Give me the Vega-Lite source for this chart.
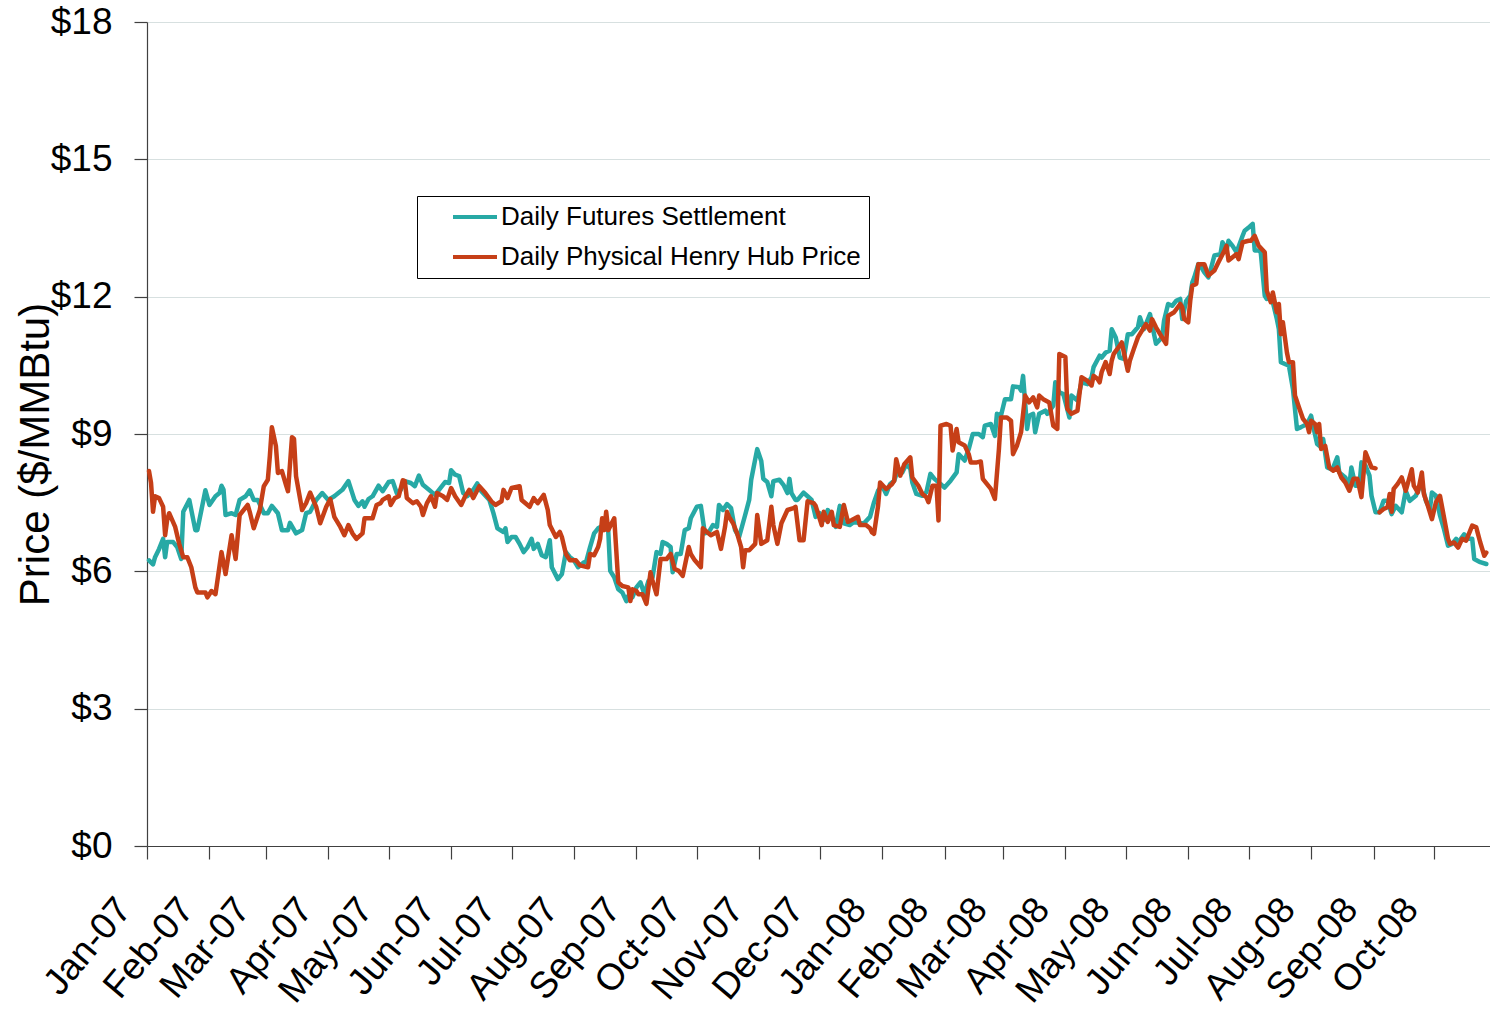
{
  "$schema": "https://vega.github.io/schema/vega-lite/v6.json",
  "width": 1343,
  "height": 824,
  "autosize": {"type": "none"},
  "padding": {"left": 147, "top": 22, "right": 0, "bottom": 163},
  "background": "white",
  "config": {"view": {"stroke": null}, "font": "Liberation Sans"},
  "datasets": {
    "futures": [
      {"date":"2007-01-02","price":6.24},{"date":"2007-01-04","price":6.15},{"date":"2007-01-05","price":6.31},{"date":"2007-01-07","price":6.49},{"date":"2007-01-09","price":6.71},{"date":"2007-01-10","price":6.31},{"date":"2007-01-11","price":6.64},{"date":"2007-01-14","price":6.64},{"date":"2007-01-16","price":6.53},{"date":"2007-01-18","price":6.27},{"date":"2007-01-19","price":7.30},{"date":"2007-01-22","price":7.56},{"date":"2007-01-25","price":6.90},{"date":"2007-01-26","price":6.90},{"date":"2007-01-30","price":7.77},
      {"date":"2007-02-01","price":7.45},{"date":"2007-02-04","price":7.64},{"date":"2007-02-06","price":7.71},{"date":"2007-02-07","price":7.87},{"date":"2007-02-08","price":7.78},{"date":"2007-02-09","price":7.23},{"date":"2007-02-12","price":7.27},{"date":"2007-02-14","price":7.23},{"date":"2007-02-16","price":7.56},{"date":"2007-02-19","price":7.64},{"date":"2007-02-21","price":7.77},{"date":"2007-02-23","price":7.56},{"date":"2007-02-25","price":7.56},{"date":"2007-02-28","price":7.27},
      {"date":"2007-03-02","price":7.27},{"date":"2007-03-04","price":7.43},{"date":"2007-03-07","price":7.27},{"date":"2007-03-09","price":6.90},{"date":"2007-03-12","price":6.90},{"date":"2007-03-13","price":7.06},{"date":"2007-03-16","price":6.83},{"date":"2007-03-19","price":6.90},{"date":"2007-03-21","price":7.27},{"date":"2007-03-23","price":7.30},{"date":"2007-03-26","price":7.56},{"date":"2007-03-29","price":7.71},
      {"date":"2007-04-01","price":7.56},{"date":"2007-04-04","price":7.64},{"date":"2007-04-08","price":7.78},{"date":"2007-04-11","price":7.97},{"date":"2007-04-14","price":7.56},{"date":"2007-04-16","price":7.43},{"date":"2007-04-18","price":7.53},{"date":"2007-04-19","price":7.41},{"date":"2007-04-21","price":7.58},{"date":"2007-04-23","price":7.64},{"date":"2007-04-26","price":7.87},{"date":"2007-04-28","price":7.75},
      {"date":"2007-05-01","price":7.95},{"date":"2007-05-03","price":7.97},{"date":"2007-05-05","price":7.71},{"date":"2007-05-07","price":7.78},{"date":"2007-05-09","price":7.97},{"date":"2007-05-12","price":7.93},{"date":"2007-05-14","price":7.86},{"date":"2007-05-16","price":8.09},{"date":"2007-05-18","price":7.89},{"date":"2007-05-21","price":7.78},{"date":"2007-05-24","price":7.67},{"date":"2007-05-26","price":7.78},{"date":"2007-05-29","price":7.95},{"date":"2007-05-31","price":7.93},
      {"date":"2007-06-01","price":8.21},{"date":"2007-06-03","price":8.11},{"date":"2007-06-05","price":8.08},{"date":"2007-06-07","price":7.71},{"date":"2007-06-09","price":7.64},{"date":"2007-06-12","price":7.78},{"date":"2007-06-14","price":7.92},{"date":"2007-06-16","price":7.75},{"date":"2007-06-20","price":7.56},{"date":"2007-06-22","price":7.27},{"date":"2007-06-24","price":6.94},{"date":"2007-06-27","price":6.86},{"date":"2007-06-28","price":6.94},{"date":"2007-06-29","price":6.64},
      {"date":"2007-07-01","price":6.75},{"date":"2007-07-03","price":6.75},{"date":"2007-07-05","price":6.60},{"date":"2007-07-07","price":6.42},{"date":"2007-07-09","price":6.53},{"date":"2007-07-11","price":6.71},{"date":"2007-07-12","price":6.49},{"date":"2007-07-14","price":6.60},{"date":"2007-07-16","price":6.35},{"date":"2007-07-18","price":6.31},{"date":"2007-07-20","price":6.68},{"date":"2007-07-21","price":6.09},{"date":"2007-07-24","price":5.83},{"date":"2007-07-26","price":5.94},{"date":"2007-07-28","price":6.42},{"date":"2007-07-30","price":6.31},
      {"date":"2007-08-01","price":6.24},{"date":"2007-08-03","price":6.09},{"date":"2007-08-06","price":6.20},{"date":"2007-08-07","price":6.20},{"date":"2007-08-09","price":6.53},{"date":"2007-08-11","price":6.83},{"date":"2007-08-13","price":6.94},{"date":"2007-08-16","price":7.01},{"date":"2007-08-18","price":6.90},{"date":"2007-08-19","price":6.01},{"date":"2007-08-21","price":5.87},{"date":"2007-08-23","price":5.61},{"date":"2007-08-25","price":5.54},{"date":"2007-08-27","price":5.35},{"date":"2007-08-29","price":5.57},{"date":"2007-08-30","price":5.43},
      {"date":"2007-09-01","price":5.65},{"date":"2007-09-03","price":5.76},{"date":"2007-09-05","price":5.50},{"date":"2007-09-07","price":5.79},{"date":"2007-09-09","price":5.87},{"date":"2007-09-11","price":6.42},{"date":"2007-09-13","price":6.38},{"date":"2007-09-14","price":6.64},{"date":"2007-09-16","price":6.60},{"date":"2007-09-18","price":6.53},{"date":"2007-09-19","price":5.98},{"date":"2007-09-21","price":6.38},{"date":"2007-09-23","price":6.38},{"date":"2007-09-25","price":6.90},{"date":"2007-09-27","price":6.94},{"date":"2007-09-28","price":7.16},
      {"date":"2007-10-01","price":7.41},{"date":"2007-10-03","price":7.43},{"date":"2007-10-05","price":6.83},{"date":"2007-10-07","price":6.86},{"date":"2007-10-09","price":7.01},{"date":"2007-10-11","price":6.97},{"date":"2007-10-12","price":7.45},{"date":"2007-10-14","price":7.34},{"date":"2007-10-16","price":7.47},{"date":"2007-10-18","price":7.38},{"date":"2007-10-20","price":6.90},{"date":"2007-10-22","price":6.75},{"date":"2007-10-25","price":7.23},{"date":"2007-10-27","price":7.56},{"date":"2007-10-28","price":8.00},{"date":"2007-10-30","price":8.45},{"date":"2007-10-31","price":8.67},
      {"date":"2007-11-02","price":8.41},{"date":"2007-11-03","price":8.02},{"date":"2007-11-05","price":7.95},{"date":"2007-11-07","price":7.64},{"date":"2007-11-08","price":7.97},{"date":"2007-11-11","price":8.00},{"date":"2007-11-13","price":7.89},{"date":"2007-11-15","price":7.71},{"date":"2007-11-16","price":8.02},{"date":"2007-11-17","price":7.71},{"date":"2007-11-19","price":7.56},{"date":"2007-11-20","price":7.56},{"date":"2007-11-23","price":7.72},{"date":"2007-11-25","price":7.64},{"date":"2007-11-27","price":7.56},{"date":"2007-11-29","price":7.19},
      {"date":"2007-12-01","price":7.27},{"date":"2007-12-03","price":7.12},{"date":"2007-12-05","price":7.34},{"date":"2007-12-08","price":7.12},{"date":"2007-12-09","price":6.97},{"date":"2007-12-11","price":7.43},{"date":"2007-12-13","price":7.05},{"date":"2007-12-16","price":7.01},{"date":"2007-12-18","price":7.08},{"date":"2007-12-21","price":7.05},{"date":"2007-12-23","price":7.05},{"date":"2007-12-26","price":7.19},{"date":"2007-12-28","price":7.51},{"date":"2007-12-30","price":7.76},
      {"date":"2008-01-01","price":7.87},{"date":"2008-01-03","price":7.69},{"date":"2008-01-05","price":7.91},{"date":"2008-01-07","price":7.98},{"date":"2008-01-09","price":8.24},{"date":"2008-01-11","price":8.16},{"date":"2008-01-13","price":8.34},{"date":"2008-01-15","price":8.24},{"date":"2008-01-16","price":7.94},{"date":"2008-01-18","price":7.69},{"date":"2008-01-21","price":7.65},{"date":"2008-01-23","price":7.73},{"date":"2008-01-25","price":8.13},{"date":"2008-01-27","price":8.02},{"date":"2008-01-30","price":7.91},
      {"date":"2008-02-01","price":7.83},{"date":"2008-02-04","price":7.98},{"date":"2008-02-07","price":8.16},{"date":"2008-02-08","price":8.56},{"date":"2008-02-11","price":8.42},{"date":"2008-02-13","price":8.67},{"date":"2008-02-15","price":9.00},{"date":"2008-02-18","price":9.00},{"date":"2008-02-20","price":8.93},{"date":"2008-02-21","price":9.18},{"date":"2008-02-24","price":9.22},{"date":"2008-02-26","price":8.96},{"date":"2008-02-27","price":9.44},{"date":"2008-02-29","price":9.40},
      {"date":"2008-03-02","price":9.76},{"date":"2008-03-05","price":9.76},{"date":"2008-03-06","price":10.04},{"date":"2008-03-09","price":10.02},{"date":"2008-03-10","price":9.95},{"date":"2008-03-11","price":10.27},{"date":"2008-03-13","price":9.11},{"date":"2008-03-14","price":9.40},{"date":"2008-03-16","price":9.44},{"date":"2008-03-17","price":9.04},{"date":"2008-03-19","price":9.44},{"date":"2008-03-22","price":9.51},{"date":"2008-03-23","price":9.44},{"date":"2008-03-26","price":9.62},{"date":"2008-03-27","price":10.13},{"date":"2008-03-29","price":9.91},{"date":"2008-03-31","price":9.87},
      {"date":"2008-04-03","price":9.36},{"date":"2008-04-04","price":9.84},{"date":"2008-04-07","price":9.73},{"date":"2008-04-09","price":10.13},{"date":"2008-04-12","price":10.09},{"date":"2008-04-14","price":10.24},{"date":"2008-04-15","price":10.46},{"date":"2008-04-18","price":10.71},{"date":"2008-04-19","price":10.67},{"date":"2008-04-21","price":10.78},{"date":"2008-04-23","price":10.82},{"date":"2008-04-24","price":11.29},{"date":"2008-04-26","price":11.11},{"date":"2008-04-28","price":10.67},{"date":"2008-04-30","price":10.64},
      {"date":"2008-05-02","price":11.18},{"date":"2008-05-04","price":11.18},{"date":"2008-05-07","price":11.33},{"date":"2008-05-08","price":11.55},{"date":"2008-05-10","price":11.29},{"date":"2008-05-13","price":11.62},{"date":"2008-05-14","price":11.40},{"date":"2008-05-16","price":10.97},{"date":"2008-05-19","price":11.11},{"date":"2008-05-20","price":11.48},{"date":"2008-05-22","price":11.84},{"date":"2008-05-24","price":11.80},{"date":"2008-05-26","price":11.91},{"date":"2008-05-28","price":11.95},{"date":"2008-05-29","price":11.51},{"date":"2008-05-31","price":11.91},
      {"date":"2008-06-02","price":12.02},{"date":"2008-06-03","price":12.31},{"date":"2008-06-04","price":12.42},{"date":"2008-06-06","price":12.71},{"date":"2008-06-07","price":12.68},{"date":"2008-06-09","price":12.53},{"date":"2008-06-11","price":12.42},{"date":"2008-06-12","price":12.57},{"date":"2008-06-14","price":12.90},{"date":"2008-06-17","price":12.93},{"date":"2008-06-18","price":13.19},{"date":"2008-06-20","price":13.01},{"date":"2008-06-21","price":13.22},{"date":"2008-06-23","price":13.11},{"date":"2008-06-25","price":12.97},{"date":"2008-06-28","price":13.33},{"date":"2008-06-29","price":13.44},
      {"date":"2008-07-01","price":13.51},{"date":"2008-07-02","price":13.55},{"date":"2008-07-03","price":13.59},{"date":"2008-07-04","price":13.01},{"date":"2008-07-06","price":13.01},{"date":"2008-07-07","price":12.97},{"date":"2008-07-09","price":12.02},{"date":"2008-07-10","price":11.95},{"date":"2008-07-12","price":11.99},{"date":"2008-07-13","price":11.88},{"date":"2008-07-15","price":11.51},{"date":"2008-07-16","price":11.29},{"date":"2008-07-17","price":10.57},{"date":"2008-07-19","price":10.53},{"date":"2008-07-21","price":10.49},{"date":"2008-07-23","price":9.98},{"date":"2008-07-25","price":9.11},{"date":"2008-07-27","price":9.15},{"date":"2008-07-30","price":9.22},
      {"date":"2008-08-01","price":9.40},{"date":"2008-08-02","price":9.18},{"date":"2008-08-04","price":8.78},{"date":"2008-08-06","price":8.71},{"date":"2008-08-07","price":8.89},{"date":"2008-08-09","price":8.27},{"date":"2008-08-11","price":8.23},{"date":"2008-08-12","price":8.27},{"date":"2008-08-14","price":8.49},{"date":"2008-08-15","price":8.16},{"date":"2008-08-18","price":8.05},{"date":"2008-08-20","price":7.87},{"date":"2008-08-21","price":8.27},{"date":"2008-08-23","price":7.87},{"date":"2008-08-25","price":7.87},{"date":"2008-08-26","price":8.38},{"date":"2008-08-28","price":8.31},{"date":"2008-08-30","price":8.09},{"date":"2008-08-31","price":7.65},
      {"date":"2008-09-02","price":7.29},{"date":"2008-09-04","price":7.29},{"date":"2008-09-06","price":7.54},{"date":"2008-09-08","price":7.54},{"date":"2008-09-10","price":7.25},{"date":"2008-09-12","price":7.43},{"date":"2008-09-15","price":7.29},{"date":"2008-09-17","price":7.76},{"date":"2008-09-19","price":7.54},{"date":"2008-09-22","price":7.65},{"date":"2008-09-23","price":7.76},{"date":"2008-09-25","price":7.91},{"date":"2008-09-27","price":7.54},{"date":"2008-09-29","price":7.36},{"date":"2008-09-30","price":7.72},
      {"date":"2008-10-02","price":7.65},{"date":"2008-10-04","price":7.22},{"date":"2008-10-06","price":6.92},{"date":"2008-10-08","price":6.56},{"date":"2008-10-10","price":6.60},{"date":"2008-10-12","price":6.71},{"date":"2008-10-13","price":6.63},{"date":"2008-10-16","price":6.81},{"date":"2008-10-18","price":6.71},{"date":"2008-10-20","price":6.71},{"date":"2008-10-21","price":6.27},{"date":"2008-10-24","price":6.20},{"date":"2008-10-27","price":6.16}
    ],
    "physical": [
      {"date":"2007-01-02","price":8.19},{"date":"2007-01-03","price":7.93},{"date":"2007-01-04","price":7.30},{"date":"2007-01-05","price":7.64},{"date":"2007-01-07","price":7.60},{"date":"2007-01-09","price":7.41},{"date":"2007-01-10","price":6.79},{"date":"2007-01-11","price":7.12},{"date":"2007-01-12","price":7.27},{"date":"2007-01-15","price":6.97},{"date":"2007-01-17","price":6.60},{"date":"2007-01-19","price":6.31},{"date":"2007-01-21","price":6.31},{"date":"2007-01-23","price":6.09},{"date":"2007-01-25","price":5.65},{"date":"2007-01-26","price":5.54},{"date":"2007-01-30","price":5.54},{"date":"2007-01-31","price":5.43},
      {"date":"2007-02-02","price":5.57},{"date":"2007-02-04","price":5.50},{"date":"2007-02-07","price":6.42},{"date":"2007-02-09","price":5.94},{"date":"2007-02-12","price":6.79},{"date":"2007-02-14","price":6.27},{"date":"2007-02-16","price":7.23},{"date":"2007-02-20","price":7.45},{"date":"2007-02-21","price":7.30},{"date":"2007-02-23","price":6.94},{"date":"2007-02-26","price":7.34},{"date":"2007-02-28","price":7.86},
      {"date":"2007-03-02","price":8.00},{"date":"2007-03-03","price":8.52},{"date":"2007-03-04","price":9.15},{"date":"2007-03-06","price":8.74},{"date":"2007-03-07","price":8.15},{"date":"2007-03-09","price":8.19},{"date":"2007-03-11","price":7.89},{"date":"2007-03-12","price":7.75},{"date":"2007-03-14","price":8.93},{"date":"2007-03-15","price":8.89},{"date":"2007-03-16","price":8.08},{"date":"2007-03-19","price":7.34},{"date":"2007-03-21","price":7.49},{"date":"2007-03-23","price":7.72},{"date":"2007-03-26","price":7.41},{"date":"2007-03-28","price":7.05},{"date":"2007-03-31","price":7.41},
      {"date":"2007-04-02","price":7.58},{"date":"2007-04-04","price":7.19},{"date":"2007-04-07","price":6.97},{"date":"2007-04-09","price":6.79},{"date":"2007-04-11","price":7.01},{"date":"2007-04-13","price":6.83},{"date":"2007-04-15","price":6.71},{"date":"2007-04-18","price":6.83},{"date":"2007-04-19","price":7.16},{"date":"2007-04-23","price":7.16},{"date":"2007-04-25","price":7.45},{"date":"2007-04-27","price":7.49},{"date":"2007-04-28","price":7.56},
      {"date":"2007-05-01","price":7.64},{"date":"2007-05-02","price":7.45},{"date":"2007-05-04","price":7.60},{"date":"2007-05-06","price":7.64},{"date":"2007-05-08","price":7.99},{"date":"2007-05-09","price":7.97},{"date":"2007-05-10","price":7.60},{"date":"2007-05-13","price":7.49},{"date":"2007-05-15","price":7.53},{"date":"2007-05-17","price":7.41},{"date":"2007-05-18","price":7.23},{"date":"2007-05-20","price":7.49},{"date":"2007-05-22","price":7.64},{"date":"2007-05-24","price":7.41},{"date":"2007-05-25","price":7.71},{"date":"2007-05-28","price":7.64},{"date":"2007-05-30","price":7.56},
      {"date":"2007-06-01","price":7.82},{"date":"2007-06-03","price":7.64},{"date":"2007-06-06","price":7.45},{"date":"2007-06-08","price":7.64},{"date":"2007-06-10","price":7.78},{"date":"2007-06-12","price":7.60},{"date":"2007-06-15","price":7.86},{"date":"2007-06-18","price":7.71},{"date":"2007-06-21","price":7.53},{"date":"2007-06-23","price":7.45},{"date":"2007-06-26","price":7.53},{"date":"2007-06-27","price":7.78},{"date":"2007-06-29","price":7.60},
      {"date":"2007-07-01","price":7.82},{"date":"2007-07-05","price":7.86},{"date":"2007-07-06","price":7.56},{"date":"2007-07-10","price":7.41},{"date":"2007-07-12","price":7.60},{"date":"2007-07-14","price":7.49},{"date":"2007-07-17","price":7.67},{"date":"2007-07-19","price":7.34},{"date":"2007-07-20","price":7.01},{"date":"2007-07-23","price":6.75},{"date":"2007-07-25","price":6.86},{"date":"2007-07-26","price":6.75},{"date":"2007-07-28","price":6.38},{"date":"2007-07-30","price":6.24},
      {"date":"2007-08-02","price":6.24},{"date":"2007-08-04","price":6.13},{"date":"2007-08-08","price":6.09},{"date":"2007-08-09","price":6.38},{"date":"2007-08-11","price":6.35},{"date":"2007-08-13","price":6.53},{"date":"2007-08-14","price":6.71},{"date":"2007-08-15","price":7.16},{"date":"2007-08-16","price":6.90},{"date":"2007-08-17","price":7.30},{"date":"2007-08-18","price":6.90},{"date":"2007-08-21","price":7.16},{"date":"2007-08-23","price":5.76},{"date":"2007-08-25","price":5.68},{"date":"2007-08-28","price":5.65},{"date":"2007-08-29","price":5.35},{"date":"2007-08-30","price":5.61},
      {"date":"2007-09-01","price":5.57},{"date":"2007-09-02","price":5.50},{"date":"2007-09-04","price":5.50},{"date":"2007-09-06","price":5.29},{"date":"2007-09-08","price":5.98},{"date":"2007-09-09","price":5.79},{"date":"2007-09-11","price":5.50},{"date":"2007-09-13","price":6.27},{"date":"2007-09-16","price":6.27},{"date":"2007-09-18","price":6.38},{"date":"2007-09-20","price":6.05},{"date":"2007-09-22","price":6.01},{"date":"2007-09-24","price":5.90},{"date":"2007-09-27","price":6.53},{"date":"2007-09-28","price":6.38},{"date":"2007-09-30","price":6.24},
      {"date":"2007-10-03","price":6.09},{"date":"2007-10-04","price":6.94},{"date":"2007-10-06","price":6.86},{"date":"2007-10-08","price":6.79},{"date":"2007-10-11","price":6.86},{"date":"2007-10-13","price":6.49},{"date":"2007-10-15","price":6.97},{"date":"2007-10-16","price":7.30},{"date":"2007-10-17","price":7.19},{"date":"2007-10-19","price":7.05},{"date":"2007-10-21","price":6.83},{"date":"2007-10-23","price":6.53},{"date":"2007-10-24","price":6.09},{"date":"2007-10-25","price":6.46},{"date":"2007-10-27","price":6.46},{"date":"2007-10-30","price":6.60},{"date":"2007-10-31","price":7.23},
      {"date":"2007-11-02","price":6.60},{"date":"2007-11-05","price":6.68},{"date":"2007-11-07","price":7.41},{"date":"2007-11-08","price":7.01},{"date":"2007-11-10","price":6.60},{"date":"2007-11-12","price":7.05},{"date":"2007-11-15","price":7.34},{"date":"2007-11-18","price":7.38},{"date":"2007-11-19","price":7.41},{"date":"2007-11-21","price":6.68},{"date":"2007-11-23","price":6.68},{"date":"2007-11-25","price":7.53},{"date":"2007-11-28","price":7.49},{"date":"2007-11-29","price":7.43},
      {"date":"2007-12-02","price":7.01},{"date":"2007-12-03","price":7.30},{"date":"2007-12-05","price":7.08},{"date":"2007-12-07","price":7.30},{"date":"2007-12-08","price":7.01},{"date":"2007-12-11","price":6.97},{"date":"2007-12-13","price":7.45},{"date":"2007-12-15","price":7.08},{"date":"2007-12-17","price":7.12},{"date":"2007-12-20","price":7.19},{"date":"2007-12-21","price":7.01},{"date":"2007-12-24","price":7.01},{"date":"2007-12-26","price":6.94},{"date":"2007-12-27","price":6.85},{"date":"2007-12-28","price":6.82},{"date":"2007-12-30","price":7.43},{"date":"2007-12-31","price":7.94},
      {"date":"2008-01-03","price":7.80},{"date":"2008-01-06","price":7.91},{"date":"2008-01-07","price":7.98},{"date":"2008-01-08","price":8.45},{"date":"2008-01-10","price":8.09},{"date":"2008-01-12","price":8.34},{"date":"2008-01-15","price":8.49},{"date":"2008-01-16","price":8.05},{"date":"2008-01-19","price":7.87},{"date":"2008-01-21","price":7.69},{"date":"2008-01-23","price":7.62},{"date":"2008-01-24","price":7.51},{"date":"2008-01-26","price":7.87},{"date":"2008-01-28","price":7.87},{"date":"2008-01-29","price":7.11},{"date":"2008-01-30","price":9.18},
      {"date":"2008-02-02","price":9.22},{"date":"2008-02-04","price":9.18},{"date":"2008-02-05","price":8.64},{"date":"2008-02-07","price":9.11},{"date":"2008-02-08","price":8.82},{"date":"2008-02-11","price":8.75},{"date":"2008-02-13","price":8.56},{"date":"2008-02-14","price":8.38},{"date":"2008-02-17","price":8.38},{"date":"2008-02-19","price":8.40},{"date":"2008-02-20","price":8.02},{"date":"2008-02-22","price":7.91},{"date":"2008-02-24","price":7.80},{"date":"2008-02-26","price":7.58},{"date":"2008-02-28","price":8.67},{"date":"2008-02-29","price":9.36},
      {"date":"2008-03-03","price":9.36},{"date":"2008-03-05","price":9.29},{"date":"2008-03-06","price":8.56},{"date":"2008-03-08","price":8.75},{"date":"2008-03-10","price":9.04},{"date":"2008-03-12","price":9.84},{"date":"2008-03-14","price":9.69},{"date":"2008-03-16","price":9.80},{"date":"2008-03-18","price":9.58},{"date":"2008-03-19","price":9.84},{"date":"2008-03-21","price":9.76},{"date":"2008-03-24","price":9.69},{"date":"2008-03-26","price":9.18},{"date":"2008-03-28","price":9.11},{"date":"2008-03-29","price":10.75},
      {"date":"2008-04-01","price":10.68},{"date":"2008-04-02","price":9.55},{"date":"2008-04-04","price":9.44},{"date":"2008-04-07","price":9.51},{"date":"2008-04-09","price":10.24},{"date":"2008-04-12","price":10.16},{"date":"2008-04-14","price":10.06},{"date":"2008-04-15","price":10.27},{"date":"2008-04-17","price":10.20},{"date":"2008-04-18","price":10.13},{"date":"2008-04-19","price":10.35},{"date":"2008-04-21","price":10.57},{"date":"2008-04-23","price":10.31},{"date":"2008-04-24","price":10.60},{"date":"2008-04-25","price":10.75},{"date":"2008-04-28","price":10.93},{"date":"2008-04-29","price":11.00},
      {"date":"2008-05-02","price":10.38},{"date":"2008-05-03","price":10.60},{"date":"2008-05-05","price":10.86},{"date":"2008-05-07","price":11.11},{"date":"2008-05-10","price":11.33},{"date":"2008-05-11","price":11.40},{"date":"2008-05-13","price":11.26},{"date":"2008-05-14","price":11.51},{"date":"2008-05-16","price":11.33},{"date":"2008-05-19","price":11.11},{"date":"2008-05-21","price":10.97},{"date":"2008-05-22","price":11.58},{"date":"2008-05-25","price":11.66},{"date":"2008-05-28","price":11.84},{"date":"2008-05-29","price":11.77},{"date":"2008-05-30","price":11.51},
      {"date":"2008-06-01","price":11.44},{"date":"2008-06-02","price":11.91},{"date":"2008-06-03","price":12.24},{"date":"2008-06-05","price":12.28},{"date":"2008-06-06","price":12.71},{"date":"2008-06-09","price":12.71},{"date":"2008-06-11","price":12.46},{"date":"2008-06-14","price":12.57},{"date":"2008-06-16","price":12.75},{"date":"2008-06-19","price":13.01},{"date":"2008-06-20","price":13.11},{"date":"2008-06-21","price":12.79},{"date":"2008-06-23","price":12.86},{"date":"2008-06-25","price":12.93},{"date":"2008-06-26","price":12.82},{"date":"2008-06-28","price":13.19},
      {"date":"2008-07-01","price":13.22},{"date":"2008-07-02","price":13.22},{"date":"2008-07-04","price":13.33},{"date":"2008-07-06","price":13.11},{"date":"2008-07-09","price":12.97},{"date":"2008-07-10","price":12.13},{"date":"2008-07-12","price":11.88},{"date":"2008-07-13","price":12.09},{"date":"2008-07-15","price":11.66},{"date":"2008-07-16","price":11.84},{"date":"2008-07-17","price":11.18},{"date":"2008-07-18","price":11.44},{"date":"2008-07-20","price":10.78},{"date":"2008-07-21","price":10.57},{"date":"2008-07-23","price":10.57},{"date":"2008-07-24","price":9.84},{"date":"2008-07-26","price":9.58},{"date":"2008-07-28","price":9.33},{"date":"2008-07-30","price":9.22},{"date":"2008-07-31","price":9.04},
      {"date":"2008-08-01","price":9.29},{"date":"2008-08-03","price":9.22},{"date":"2008-08-04","price":9.04},{"date":"2008-08-05","price":9.22},{"date":"2008-08-06","price":8.67},{"date":"2008-08-08","price":8.74},{"date":"2008-08-10","price":8.27},{"date":"2008-08-12","price":8.20},{"date":"2008-08-14","price":8.27},{"date":"2008-08-16","price":8.05},{"date":"2008-08-18","price":7.94},{"date":"2008-08-20","price":7.76},{"date":"2008-08-22","price":8.02},{"date":"2008-08-24","price":8.02},{"date":"2008-08-26","price":7.62},{"date":"2008-08-28","price":8.60},{"date":"2008-08-30","price":8.38},{"date":"2008-08-31","price":8.27},
      {"date":"2008-09-02","price":8.25},{"date":"2008-09-03","price":null},{"date":"2008-09-04","price":7.29},{"date":"2008-09-06","price":7.36},{"date":"2008-09-08","price":7.40},{"date":"2008-09-09","price":7.69},{"date":"2008-09-10","price":7.30},{"date":"2008-09-11","price":7.80},{"date":"2008-09-13","price":7.91},{"date":"2008-09-15","price":8.05},{"date":"2008-09-17","price":7.76},{"date":"2008-09-20","price":8.23},{"date":"2008-09-21","price":7.87},{"date":"2008-09-23","price":7.72},{"date":"2008-09-25","price":8.16},{"date":"2008-09-26","price":7.69},{"date":"2008-09-28","price":7.43},{"date":"2008-09-30","price":7.14},
      {"date":"2008-10-02","price":7.51},{"date":"2008-10-04","price":7.65},{"date":"2008-10-06","price":7.18},{"date":"2008-10-08","price":6.71},{"date":"2008-10-09","price":6.60},{"date":"2008-10-11","price":6.63},{"date":"2008-10-13","price":6.52},{"date":"2008-10-15","price":6.71},{"date":"2008-10-17","price":6.67},{"date":"2008-10-20","price":7.00},{"date":"2008-10-22","price":6.96},{"date":"2008-10-24","price":6.63},{"date":"2008-10-26","price":6.34},{"date":"2008-10-27","price":6.41}
    ]
  },
  "layer": [
    {
      "data": {"name": "futures"},
      "mark": {"type": "line", "strokeWidth": 4.5, "strokeJoin": "round", "strokeCap": "round"},
      "encoding": {
        "x": {
          "field": "date", "type": "temporal",
          "scale": {"type": "utc", "domain": [{"year": 2007, "month": 1, "date": 1, "utc": true}, {"year": 2008, "month": 10, "date": 28, "hours": 20, "utc": true}]},
          "axis": {
            "title": null,
            "labelExpr": "utcFormat(datum.value, '%b-%y')",
            "tickCount": {"interval": "month", "step": 1},
            "grid": false, "domainColor": "#404040", "domainWidth": 1.2,
            "tickColor": "#404040", "tickWidth": 1.2, "tickSize": 13,
            "labelAngle": -50, "labelAlign": "right", "labelBaseline": "middle",
            "labelFontSize": 37, "labelFont": "Liberation Sans", "labelColor": "#000000",
            "labelPadding": 44, "labelOffset": -23,
            "labelOverlap": false, "labelBound": false, "labelFlush": false
          }
        },
        "y": {
          "field": "price", "type": "quantitative",
          "scale": {"domain": [0, 18], "nice": false, "zero": true},
          "axis": {
            "values": [0, 3, 6, 9, 12, 15, 18],
            "labelExpr": "'$' + datum.value",
            "grid": true, "gridColor": "#D7E0E0", "gridWidth": 1.2,
            "domainColor": "#404040", "domainWidth": 1.2,
            "tickColor": "#404040", "tickWidth": 1.2, "tickSize": 13,
            "labelFontSize": 37, "labelFont": "Liberation Sans", "labelColor": "#000000", "labelPadding": 22,
            "title": "Price ($/MMBtu)", "titleFontSize": 42, "titleFont": "Liberation Sans", "titleFontWeight": "normal", "titleColor": "#000000",
            "titleAngle": -90, "titleAlign": "center", "titleBaseline": "middle", "titleX": -112, "titleY": 432
          }
        },
        "color": {
          "datum": "Daily Futures Settlement",
          "type": "nominal",
          "scale": {"domain": ["Daily Futures Settlement", "Daily Physical Henry Hub Price"], "range": ["#27A9A5", "#C63F17"]},
          "legend": {
            "title": null, "orient": "none", "legendX": 270, "legendY": 174,
            "strokeColor": "#000000", "fillColor": "#FFFFFF", "padding": 8,
            "symbolType": "M-2,0L2,0", "symbolSize": 484, "symbolStrokeWidth": 4,
            "symbolOffset": 37, "labelOffset": 13, "rowPadding": 14,
            "labelFontSize": 26, "labelFont": "Liberation Sans", "labelColor": "#000000", "labelLimit": 600
          }
        }
      }
    },
    {
      "data": {"name": "physical"},
      "mark": {"type": "line", "strokeWidth": 4.5, "strokeJoin": "round", "strokeCap": "round", "invalid": "break-paths-show-domains"},
      "encoding": {
        "x": {"field": "date", "type": "temporal"},
        "y": {"field": "price", "type": "quantitative"},
        "color": {"datum": "Daily Physical Henry Hub Price", "type": "nominal"}
      }
    }
  ]
}
